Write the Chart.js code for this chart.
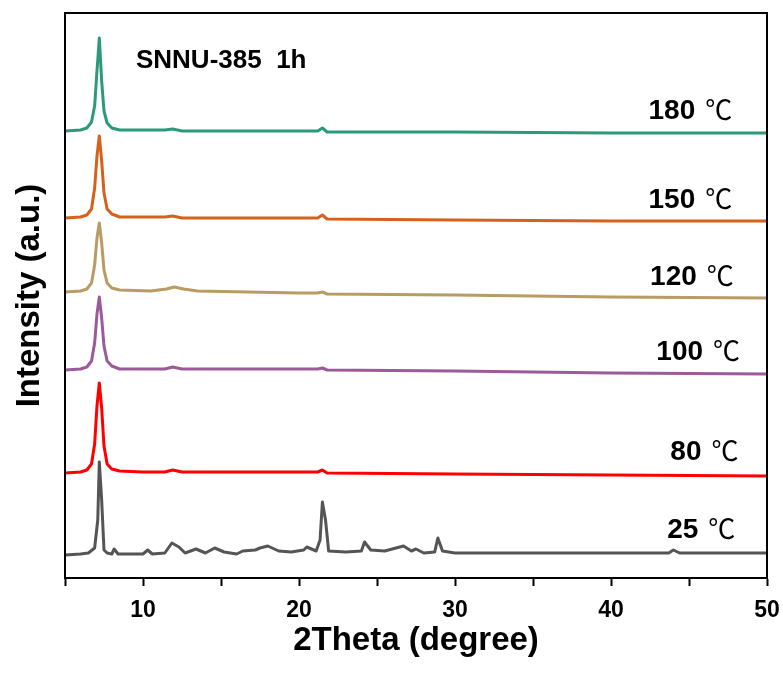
<!DOCTYPE html>
<html lang="en">
<head>
  <meta charset="UTF-8">
  <title>SNNU-385 1h XRD</title>
  <script src="https://cdn.jsdelivr.net/npm/chart.js"></script>
  <style>
    body {
      margin: 0;
      background: #fff;
    }
    #chart-container {
      width: 783px;
      height: 677px;
    }
  </style>
</head>
<body>
  <div id="chart-container">
    <canvas id="xrdChart"></canvas>
  </div>

  <script>
    // 2Theta positions and stacked intensities (a.u.)
    const x25  = [5, 6.0, 6.5, 6.9, 7.1, 7.2, 7.35, 7.5, 7.7, 8.0, 8.15, 8.4, 10.0, 10.3, 10.6, 11.4, 11.85, 12.3, 12.7, 13.4, 14.0, 14.6, 15.2, 16.0, 16.4, 17.2, 17.5, 18.0, 18.7, 19.5, 20.3, 20.5, 21.1, 21.35, 21.5, 21.7, 21.9, 23.0, 24.0, 24.2, 24.6, 25.5, 26.7, 27.2, 27.5, 28.0, 28.7, 28.9, 29.2, 30, 35, 40, 43.7, 44.0, 44.4, 50];
    const y25  = [21, 22, 23, 28, 56, 114, 76, 26, 23, 22, 27, 22, 22, 26, 22, 23, 33, 29, 23, 27, 23, 28, 24, 22, 25, 26, 28, 30, 25, 24, 26, 29, 25, 36, 74, 56, 25, 24, 25, 34, 26, 25, 30, 25, 27, 23, 24, 38, 25, 23, 23, 23, 23, 26, 23, 23];

    const x80  = [5, 6.0, 6.4, 6.7, 6.9, 7.05, 7.2, 7.35, 7.5, 7.7, 8.0, 8.5, 10, 11.4, 11.9, 12.5, 20, 21.2, 21.5, 21.8, 30, 40, 50];
    const y80  = [103, 104, 106, 112, 132, 170, 193, 168, 130, 112, 107, 105, 104, 104, 106, 104, 104, 104, 106, 103, 102, 101, 100];

    const x100 = [5, 6.0, 6.4, 6.7, 6.9, 7.05, 7.2, 7.35, 7.5, 7.7, 8.0, 8.5, 11.4, 11.9, 12.5, 21.2, 21.5, 21.8, 30, 40, 50];
    const y100 = [206, 207, 209, 215, 233, 262, 279, 258, 230, 215, 210, 207, 207, 209, 207, 207, 208, 206, 205, 203, 202];

    const x120 = [5, 6.0, 6.4, 6.7, 6.9, 7.05, 7.2, 7.35, 7.5, 7.7, 8.0, 8.5, 10.5, 11.5, 12.0, 12.6, 13.5, 20, 21.2, 21.5, 21.8, 30, 40, 50];
    const y120 = [284, 285, 287, 293, 311, 338, 353, 333, 306, 293, 288, 286, 285, 287, 289, 287, 285, 283, 283, 284, 282, 281, 279, 278];

    const x150 = [5, 6.0, 6.4, 6.7, 6.9, 7.05, 7.2, 7.35, 7.5, 7.7, 8.0, 8.5, 11.4, 11.9, 12.5, 21.2, 21.5, 21.8, 30, 40, 50];
    const y150 = [358, 359, 361, 367, 388, 420, 440, 415, 383, 367, 362, 359, 359, 360, 358, 358, 361, 357, 356, 355, 355];

    const x180 = [5, 6.0, 6.4, 6.7, 6.9, 7.05, 7.2, 7.35, 7.5, 7.7, 8.0, 8.5, 11.4, 11.9, 12.5, 21.2, 21.5, 21.8, 30, 40, 50];
    const y180 = [445, 446, 448, 454, 470, 505, 538, 495, 465, 453, 448, 446, 446, 447, 445, 445, 448, 444, 444, 443, 443];

    // curve labels (number, then the degree sign)
    const tempLabels = ['25', '80', '100', '120', '150', '180'];
    const labelX = [45.6, 45.8, 45.9, 45.5, 45.4, 45.4];
    const labelY = [48, 126, 226, 301, 378, 467];
    const chartTitle = 'SNNU-385  1h';

    const FONT = 'Arial, "Liberation Sans", sans-serif';

    function pts(xs, ys) {
      return xs.map((x, i) => ({ x: x, y: ys[i] }));
    }

    function series(label, xs, ys, color) {
      return {
        label: label,
        data: pts(xs, ys),
        borderColor: color,
        backgroundColor: color,
        borderWidth: 3,
        pointRadius: 0,
        tension: 0,
        borderJoinStyle: 'round'
      };
    }

    // box + text drawn on top of the plot
    const annotate = {
      id: 'annotate',
      afterDraw(chart) {
        const ctx = chart.ctx;
        const a = chart.chartArea;
        const sx = chart.scales.x;
        const sy = chart.scales.y;
        ctx.save();
        ctx.strokeStyle = '#000';
        ctx.lineWidth = 2;
        ctx.strokeRect(a.left, a.top, a.right - a.left, a.bottom - a.top);

        ctx.fillStyle = '#000';
        ctx.textBaseline = 'alphabetic';

        // title in the plot
        ctx.font = 'bold 26px ' + FONT;
        ctx.textAlign = 'left';
        ctx.fillText(chartTitle, sx.getPixelForValue(9.55), sy.getPixelForValue(517.5) + 9);

        tempLabels.forEach((t, i) => {
          const px = sx.getPixelForValue(labelX[i]);
          const py = sy.getPixelForValue(labelY[i]) + 10;
          ctx.font = 'bold 28px ' + FONT;
          ctx.textAlign = 'right';
          ctx.fillText(t, px, py);
          ctx.font = '27px "Noto Sans CJK SC", sans-serif';
          ctx.textAlign = 'left';
          ctx.fillText('\u2103', px + 10, py + 1);
        });
        ctx.restore();
      }
    };

    const ctx = document.getElementById('xrdChart').getContext('2d');
    new Chart(ctx, {
      type: 'line',
      data: {
        datasets: [
          series('25 ℃', x25, y25, '#555555'),
          series('80 ℃', x80, y80, '#ff0000'),
          series('100 ℃', x100, y100, '#9b5b98'),
          series('120 ℃', x120, y120, '#b89c64'),
          series('150 ℃', x150, y150, '#d4621c'),
          series('180 ℃', x180, y180, '#2a9a78')
        ]
      },
      options: {
        responsive: true,
        maintainAspectRatio: false,
        animation: false,
        layout: { padding: { top: 13, right: 16, left: 0, bottom: 0 } },
        plugins: {
          legend: { display: false },
          tooltip: { enabled: false }
        },
        scales: {
          x: {
            type: 'linear',
            min: 5,
            max: 50,
            afterFit(scale) {
              scale.height = 99;
              scale.paddingLeft = 0;
              scale.paddingRight = 0;
            },
            ticks: {
              stepSize: 5,
              autoSkip: false,
              maxRotation: 0,
              padding: 11,
              color: '#000',
              font: { family: FONT, size: 23, weight: 'bold' },
              callback: v => (v % 10 === 0 ? String(v) : '')
            },
            grid: {
              drawOnChartArea: false,
              drawTicks: true,
              tickLength: 8,
              tickWidth: 2,
              tickColor: '#000'
            },
            border: { display: true, color: '#000', width: 2 },
            title: {
              display: true,
              text: '2Theta (degree)',
              color: '#000',
              font: { family: FONT, size: 33, weight: 'bold' },
              padding: { top: 0, bottom: 16 }
            }
          },
          y: {
            min: -2,
            max: 563,
            afterFit(scale) { scale.width = 65; },
            ticks: { display: false },
            grid: { display: false, drawTicks: false },
            border: { display: true, color: '#000', width: 2 },
            title: {
              display: true,
              text: 'Intensity (a.u.)',
              color: '#000',
              font: { family: FONT, size: 33, weight: 'bold' },
              padding: { top: 10, bottom: 0 }
            }
          }
        }
      },
      plugins: [annotate]
    });
  </script>
</body>
</html>
